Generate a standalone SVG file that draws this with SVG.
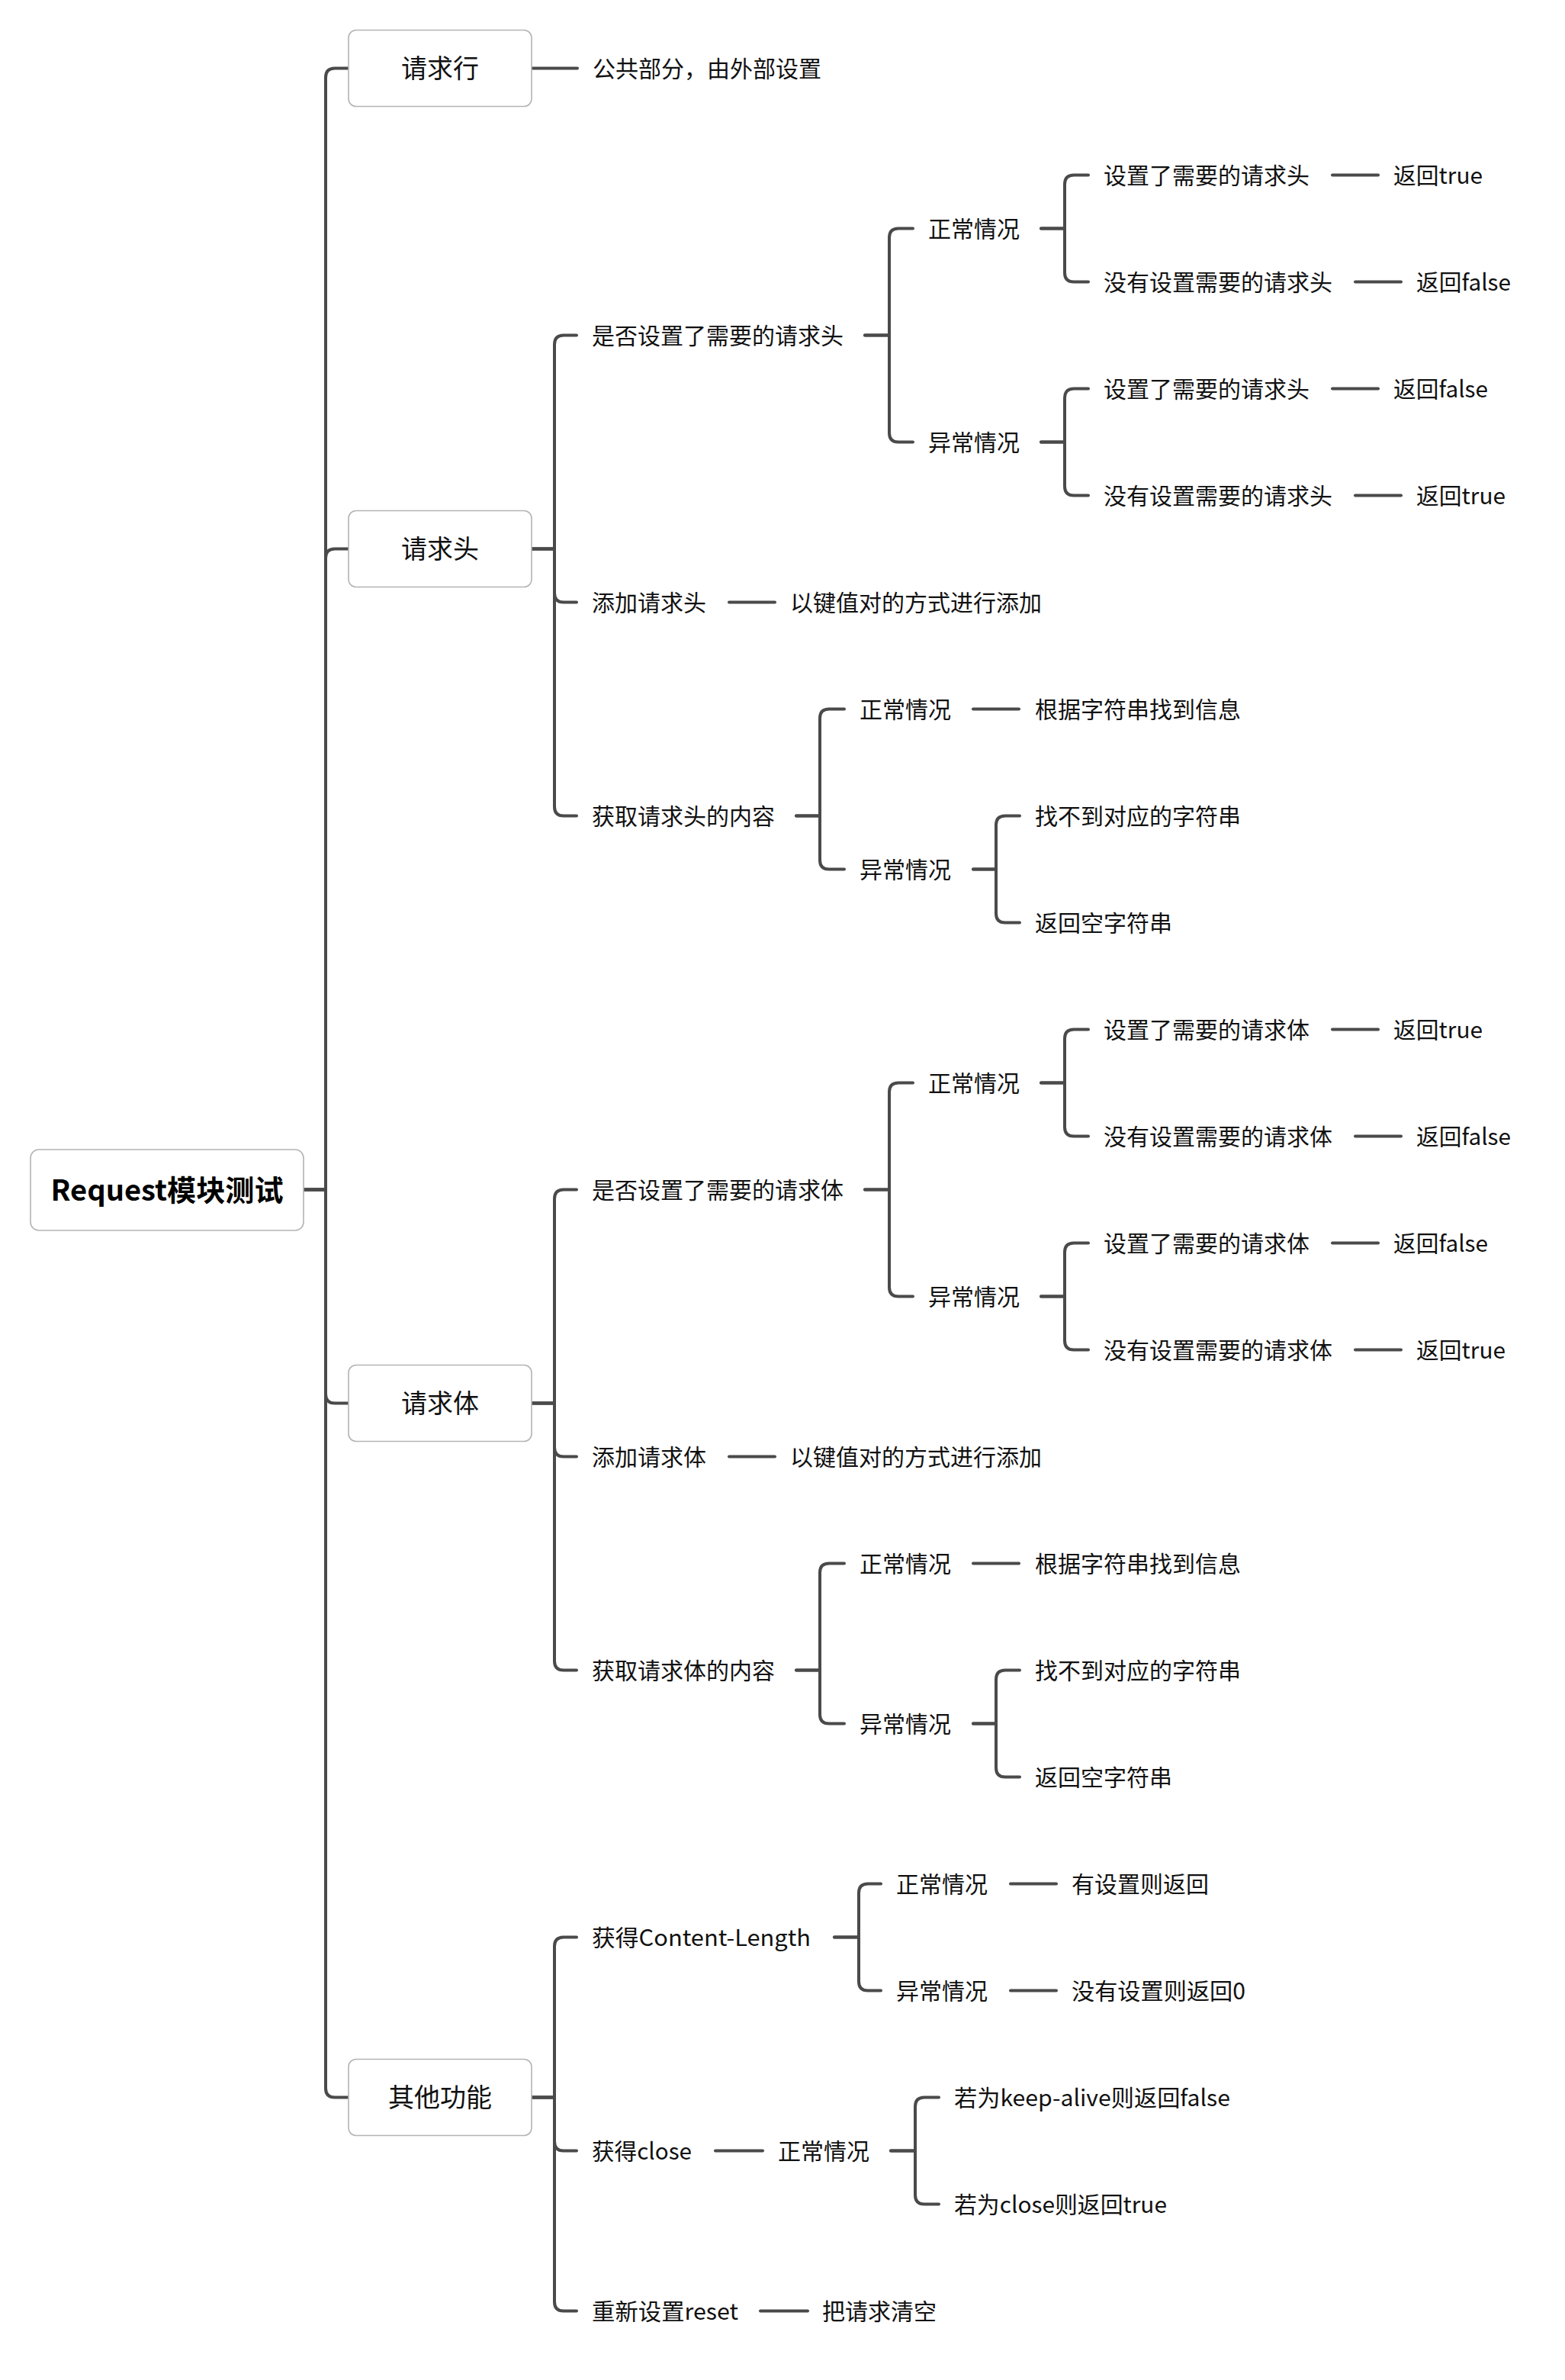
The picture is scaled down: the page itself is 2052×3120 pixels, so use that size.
<svg xmlns="http://www.w3.org/2000/svg" width="2052" height="3120" viewBox="0 0 2052 3120">
<style>
.bg{fill:#ffffff}
.box{fill:#ffffff;stroke:#b4b4b4;stroke-width:1.6}
.ln{fill:none;stroke:#4a4a4a;stroke-width:4;stroke-linecap:round;stroke-linejoin:round}
.t{font-family:"Noto Sans CJK SC","Noto Sans",sans-serif;font-size:30px;fill:#111111}
.t1{font-family:"Noto Sans CJK SC","Noto Sans",sans-serif;font-size:34px;fill:#111111;text-anchor:middle}
.t0{font-family:"Noto Sans CJK SC","Noto Sans",sans-serif;font-size:38px;font-weight:bold;fill:#000000;text-anchor:middle}
</style>
<rect class="bg" x="0" y="0" width="2052" height="3120"/>
<g id="connectors">
<path class="ln" d="M398 1559.5 H427 V101.5 Q427 89.5 439 89.5 H457"/>
<path class="ln" d="M398 1559.5 H427 V731.5 Q427 719.5 439 719.5 H457"/>
<path class="ln" d="M398 1559.5 H427 V1827.5 Q427 1839.5 439 1839.5 H457"/>
<path class="ln" d="M398 1559.5 H427 V2737.5 Q427 2749.5 439 2749.5 H457"/>
<path class="ln" d="M697 89.5 H757"/>
<path class="ln" d="M697 719.5 H727 V451.5 Q727 439.5 739 439.5 H756"/>
<path class="ln" d="M697 719.5 H727 V777.5 Q727 789.5 739 789.5 H756"/>
<path class="ln" d="M697 719.5 H727 V1057.5 Q727 1069.5 739 1069.5 H756"/>
<path class="ln" d="M1134 439.5 H1166 V311.5 Q1166 299.5 1178 299.5 H1197"/>
<path class="ln" d="M1134 439.5 H1166 V567.5 Q1166 579.5 1178 579.5 H1197"/>
<path class="ln" d="M1365 299.5 H1396 V241.5 Q1396 229.5 1408 229.5 H1427"/>
<path class="ln" d="M1365 299.5 H1396 V357.5 Q1396 369.5 1408 369.5 H1427"/>
<path class="ln" d="M1747 229.5 H1807"/>
<path class="ln" d="M1777 369.5 H1837"/>
<path class="ln" d="M1365 579.5 H1396 V521.5 Q1396 509.5 1408 509.5 H1427"/>
<path class="ln" d="M1365 579.5 H1396 V637.5 Q1396 649.5 1408 649.5 H1427"/>
<path class="ln" d="M1747 509.5 H1807"/>
<path class="ln" d="M1777 649.5 H1837"/>
<path class="ln" d="M956 789.5 H1016"/>
<path class="ln" d="M1044 1069.5 H1075 V941.5 Q1075 929.5 1087 929.5 H1107"/>
<path class="ln" d="M1044 1069.5 H1075 V1127.5 Q1075 1139.5 1087 1139.5 H1107"/>
<path class="ln" d="M1276 929.5 H1336"/>
<path class="ln" d="M1276 1139.5 H1306 V1081.5 Q1306 1069.5 1318 1069.5 H1337"/>
<path class="ln" d="M1276 1139.5 H1306 V1197.5 Q1306 1209.5 1318 1209.5 H1337"/>
<path class="ln" d="M697 1839.5 H727 V1571.5 Q727 1559.5 739 1559.5 H756"/>
<path class="ln" d="M697 1839.5 H727 V1897.5 Q727 1909.5 739 1909.5 H756"/>
<path class="ln" d="M697 1839.5 H727 V2177.5 Q727 2189.5 739 2189.5 H756"/>
<path class="ln" d="M1134 1559.5 H1166 V1431.5 Q1166 1419.5 1178 1419.5 H1197"/>
<path class="ln" d="M1134 1559.5 H1166 V1687.5 Q1166 1699.5 1178 1699.5 H1197"/>
<path class="ln" d="M1365 1419.5 H1396 V1361.5 Q1396 1349.5 1408 1349.5 H1427"/>
<path class="ln" d="M1365 1419.5 H1396 V1477.5 Q1396 1489.5 1408 1489.5 H1427"/>
<path class="ln" d="M1747 1349.5 H1807"/>
<path class="ln" d="M1777 1489.5 H1837"/>
<path class="ln" d="M1365 1699.5 H1396 V1641.5 Q1396 1629.5 1408 1629.5 H1427"/>
<path class="ln" d="M1365 1699.5 H1396 V1757.5 Q1396 1769.5 1408 1769.5 H1427"/>
<path class="ln" d="M1747 1629.5 H1807"/>
<path class="ln" d="M1777 1769.5 H1837"/>
<path class="ln" d="M956 1909.5 H1016"/>
<path class="ln" d="M1044 2189.5 H1075 V2061.5 Q1075 2049.5 1087 2049.5 H1107"/>
<path class="ln" d="M1044 2189.5 H1075 V2247.5 Q1075 2259.5 1087 2259.5 H1107"/>
<path class="ln" d="M1276 2049.5 H1336"/>
<path class="ln" d="M1276 2259.5 H1306 V2201.5 Q1306 2189.5 1318 2189.5 H1337"/>
<path class="ln" d="M1276 2259.5 H1306 V2317.5 Q1306 2329.5 1318 2329.5 H1337"/>
<path class="ln" d="M697 2749.5 H727 V2551.5 Q727 2539.5 739 2539.5 H756"/>
<path class="ln" d="M697 2749.5 H727 V2807.5 Q727 2819.5 739 2819.5 H756"/>
<path class="ln" d="M697 2749.5 H727 V3017.5 Q727 3029.5 739 3029.5 H756"/>
<path class="ln" d="M1094 2539.5 H1126 V2481.5 Q1126 2469.5 1138 2469.5 H1155"/>
<path class="ln" d="M1094 2539.5 H1126 V2597.5 Q1126 2609.5 1138 2609.5 H1155"/>
<path class="ln" d="M1325 2469.5 H1385"/>
<path class="ln" d="M1325 2609.5 H1385"/>
<path class="ln" d="M938 2819.5 H1000"/>
<path class="ln" d="M1168 2819.5 H1200 V2761.5 Q1200 2749.5 1212 2749.5 H1231"/>
<path class="ln" d="M1168 2819.5 H1200 V2877.5 Q1200 2889.5 1212 2889.5 H1231"/>
<path class="ln" d="M997 3029.5 H1059"/>
</g>
<g id="root"><rect class="box" x="40" y="1507" width="358" height="106" rx="11"/><text class="t0" x="219" y="1574" textLength="305" lengthAdjust="spacingAndGlyphs">Request模块测试</text></g>
<g id="n-qqh"><rect class="box" x="457" y="39.5" width="240" height="100" rx="10"/><text class="t1" x="577" y="102">请求行</text></g>
<g id="n-qqh-1"><text class="t" x="777" y="101">公共部分，由外部设置</text></g>
<g id="n-qqt"><rect class="box" x="457" y="669.5" width="240" height="100" rx="10"/><text class="t1" x="577" y="732">请求头</text></g>
<g id="n-qqt-a"><text class="t" x="776" y="451">是否设置了需要的请求头</text></g>
<g id="n-qqt-a1"><text class="t" x="1217" y="311">正常情况</text></g>
<g id="n-qqt-a1a"><text class="t" x="1447" y="241">设置了需要的请求头</text></g>
<g id="n-qqt-a1a-r"><text class="t" x="1827" y="241" textLength="117" lengthAdjust="spacingAndGlyphs">返回true</text></g>
<g id="n-qqt-a1b"><text class="t" x="1447" y="381">没有设置需要的请求头</text></g>
<g id="n-qqt-a1b-r"><text class="t" x="1857" y="381" textLength="124" lengthAdjust="spacingAndGlyphs">返回false</text></g>
<g id="n-qqt-a2"><text class="t" x="1217" y="591">异常情况</text></g>
<g id="n-qqt-a2a"><text class="t" x="1447" y="521">设置了需要的请求头</text></g>
<g id="n-qqt-a2a-r"><text class="t" x="1827" y="521" textLength="124" lengthAdjust="spacingAndGlyphs">返回false</text></g>
<g id="n-qqt-a2b"><text class="t" x="1447" y="661">没有设置需要的请求头</text></g>
<g id="n-qqt-a2b-r"><text class="t" x="1857" y="661" textLength="117" lengthAdjust="spacingAndGlyphs">返回true</text></g>
<g id="n-qqt-b"><text class="t" x="776" y="801">添加请求头</text></g>
<g id="n-qqt-b1"><text class="t" x="1036" y="801">以键值对的方式进行添加</text></g>
<g id="n-qqt-c"><text class="t" x="776" y="1081">获取请求头的内容</text></g>
<g id="n-qqt-c1"><text class="t" x="1127" y="941">正常情况</text></g>
<g id="n-qqt-c1a"><text class="t" x="1357" y="941">根据字符串找到信息</text></g>
<g id="n-qqt-c2"><text class="t" x="1127" y="1151">异常情况</text></g>
<g id="n-qqt-c2a"><text class="t" x="1357" y="1081">找不到对应的字符串</text></g>
<g id="n-qqt-c2b"><text class="t" x="1357" y="1221">返回空字符串</text></g>
<g id="n-qqb"><rect class="box" x="457" y="1789.5" width="240" height="100" rx="10"/><text class="t1" x="577" y="1852">请求体</text></g>
<g id="n-qqb-a"><text class="t" x="776" y="1571">是否设置了需要的请求体</text></g>
<g id="n-qqb-a1"><text class="t" x="1217" y="1431">正常情况</text></g>
<g id="n-qqb-a1a"><text class="t" x="1447" y="1361">设置了需要的请求体</text></g>
<g id="n-qqb-a1a-r"><text class="t" x="1827" y="1361" textLength="117" lengthAdjust="spacingAndGlyphs">返回true</text></g>
<g id="n-qqb-a1b"><text class="t" x="1447" y="1501">没有设置需要的请求体</text></g>
<g id="n-qqb-a1b-r"><text class="t" x="1857" y="1501" textLength="124" lengthAdjust="spacingAndGlyphs">返回false</text></g>
<g id="n-qqb-a2"><text class="t" x="1217" y="1711">异常情况</text></g>
<g id="n-qqb-a2a"><text class="t" x="1447" y="1641">设置了需要的请求体</text></g>
<g id="n-qqb-a2a-r"><text class="t" x="1827" y="1641" textLength="124" lengthAdjust="spacingAndGlyphs">返回false</text></g>
<g id="n-qqb-a2b"><text class="t" x="1447" y="1781">没有设置需要的请求体</text></g>
<g id="n-qqb-a2b-r"><text class="t" x="1857" y="1781" textLength="117" lengthAdjust="spacingAndGlyphs">返回true</text></g>
<g id="n-qqb-b"><text class="t" x="776" y="1921">添加请求体</text></g>
<g id="n-qqb-b1"><text class="t" x="1036" y="1921">以键值对的方式进行添加</text></g>
<g id="n-qqb-c"><text class="t" x="776" y="2201">获取请求体的内容</text></g>
<g id="n-qqb-c1"><text class="t" x="1127" y="2061">正常情况</text></g>
<g id="n-qqb-c1a"><text class="t" x="1357" y="2061">根据字符串找到信息</text></g>
<g id="n-qqb-c2"><text class="t" x="1127" y="2271">异常情况</text></g>
<g id="n-qqb-c2a"><text class="t" x="1357" y="2201">找不到对应的字符串</text></g>
<g id="n-qqb-c2b"><text class="t" x="1357" y="2341">返回空字符串</text></g>
<g id="n-qt"><rect class="box" x="457" y="2699.5" width="240" height="100" rx="10"/><text class="t1" x="577" y="2762">其他功能</text></g>
<g id="n-qt-d"><text class="t" x="776" y="2551" textLength="287" lengthAdjust="spacingAndGlyphs">获得Content-Length</text></g>
<g id="n-qt-d1"><text class="t" x="1175" y="2481">正常情况</text></g>
<g id="n-qt-d1a"><text class="t" x="1405" y="2481">有设置则返回</text></g>
<g id="n-qt-d2"><text class="t" x="1175" y="2621">异常情况</text></g>
<g id="n-qt-d2a"><text class="t" x="1405" y="2621" textLength="228" lengthAdjust="spacingAndGlyphs">没有设置则返回0</text></g>
<g id="n-qt-e"><text class="t" x="776" y="2831" textLength="131" lengthAdjust="spacingAndGlyphs">获得close</text></g>
<g id="n-qt-e1"><text class="t" x="1020" y="2831">正常情况</text></g>
<g id="n-qt-e1a"><text class="t" x="1251" y="2761" textLength="362" lengthAdjust="spacingAndGlyphs">若为keep-alive则返回false</text></g>
<g id="n-qt-e1b"><text class="t" x="1251" y="2901" textLength="279" lengthAdjust="spacingAndGlyphs">若为close则返回true</text></g>
<g id="n-qt-f"><text class="t" x="776" y="3041" textLength="192" lengthAdjust="spacingAndGlyphs">重新设置reset</text></g>
<g id="n-qt-f1"><text class="t" x="1078" y="3041">把请求清空</text></g>
</svg>
